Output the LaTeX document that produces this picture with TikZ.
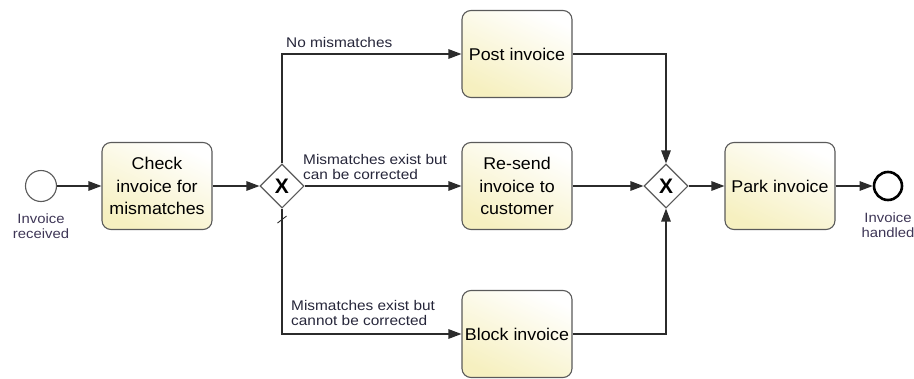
\documentclass[tikz,border=0pt]{standalone}
\usepackage{fontspec}
\setmainfont{Liberation Sans}
\newfontfamily\widesans[FakeStretch=1.1]{Liberation Sans}
\newfontfamily\taskfont[FakeStretch=1.05]{Liberation Sans}
\usetikzlibrary{shapes.geometric,arrows.meta,calc}
\definecolor{linegray}{HTML}{2B2B2B}
\definecolor{boxedge}{HTML}{5A5A5A}
\definecolor{taskfill}{HTML}{F6F0C0}
\definecolor{labelink}{HTML}{26263A}
\definecolor{eventink}{HTML}{3E3656}
\tikzset{
  task/.style={draw=boxedge, line width=1.1pt, rounded corners=9pt,
    minimum width=110pt, minimum height=87pt, align=center,
    shading=axis, top color=white, bottom color=taskfill, shading angle=-25,
    font=\taskfont\fontsize{17}{22.5}\selectfont, text=black, inner sep=2pt},
  xorgate/.style={diamond, draw=boxedge, fill=white, line width=1.1pt,
    minimum width=44pt, minimum height=44pt, inner sep=0pt,
    font=\fontsize{21}{21}\selectfont\bfseries},
  startev/.style={circle, draw=boxedge, fill=white, line width=1.1pt,
    minimum size=31pt, inner sep=0pt},
  endev/.style={circle, draw=black, fill=white, line width=2.6pt,
    minimum size=28pt, inner sep=0pt},
  evlabel/.style={align=center, text=eventink,
    font=\widesans\fontsize{13.5}{15}\selectfont, inner sep=0pt},
  flowlabel/.style={align=left, text=labelink, anchor=west,
    font=\widesans\fontsize{14}{15.5}\selectfont, inner sep=0pt},
  flow/.style={draw=linegray, line width=1.2pt,
    -{Triangle[length=13pt,width=9.5pt]}},
}
\begin{document}
\begin{tikzpicture}[x=1pt,y=-1pt]
  \useasboundingbox (0,0) rectangle (914,378);

  % events, tasks and gateways
  \node[startev] (start) at (41,186) {};
  \node[evlabel] (startlab) at (41,226) {Invoice\\received};
  \node[task] (check) at (157,186) {Check\\invoice for\\mismatches};
  \node[xorgate] (gw1) at (282,186) {X};
  \node[task] (post) at (517,54) {Post invoice};
  \node[task] (resend) at (517,186) {Re-send\\invoice to\\customer};
  \node[task] (block) at (517,334) {Block invoice};
  \node[xorgate] (gw2) at (666,186) {X};
  \node[task] (park) at (780,186) {Park invoice};
  \node[endev] (finish) at (888,186) {};
  \node[evlabel] (endlab) at (888,225) {Invoice\\handled};

  % sequence flows
  \draw[flow] (start) -- (check);
  \draw[flow] (check) -- (gw1);
  \draw[flow] (gw1.north) |- (post);
  \draw[flow] (gw1.east) -- (resend);
  \draw[flow] (gw1.south) |- (block);
  \draw[flow] (post) -| (gw2.north);
  \draw[flow] (resend) -- (gw2.west);
  \draw[flow] (block) -| (gw2.south);
  \draw[flow] (gw2.east) -- (park);
  \draw[flow] (park) -- (finish);

  % default-flow marker below the split gateway
  \coordinate (dflt) at ($(gw1.south)+(0,11)$);
  \draw[draw=linegray, line width=0.9pt] ($(dflt)+(-4.5,3.5)$) -- ($(dflt)+(4.5,-3.5)$);

  % condition labels
  \node[flowlabel] (lab1) at (286,42) {No mismatches};
  \node[flowlabel] (lab2) at (303,167) {Mismatches exist but\\can be corrected};
  \node[flowlabel] (lab3) at (291,313) {Mismatches exist but\\cannot be corrected};
\end{tikzpicture}
\end{document}
